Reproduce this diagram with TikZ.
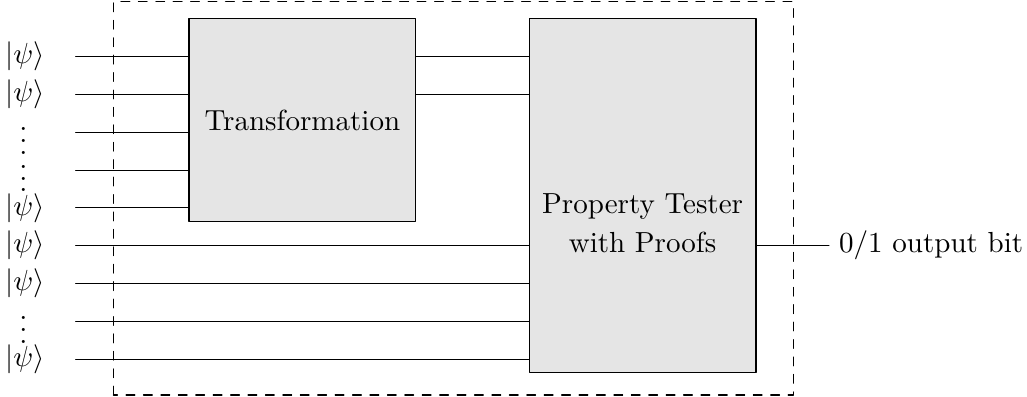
\documentclass[tikz,border=0pt]{standalone}
\usepackage{amsmath,amsfonts,amssymb}
\usepackage{tikz}
\usetikzlibrary{calc}

\begin{document}
\begin{tikzpicture}[line cap=round,line join=round,x=0.4575cm,y=0.4575cm,
        blockbox/.style={draw,fill=gray!20,line width=0.4pt,inner sep=0pt},
        wire/.style={line width=0.4pt}]
                \useasboundingbox (0,0) rectangle (27.17,10.5);
                \draw [dashed,line width=0.4pt] (3,0.05) rectangle (21,10.45);
                \node [blockbox,minimum width=2.745cm,minimum height=2.4476cm] (trans) at (8,7.325) {Transformation};
                \node [blockbox,minimum width=2.745cm,minimum height=4.2776cm] (tester) at (17,5.325) {};
                \node [align=center] (testertext) at (17,4.6) {Property Tester\\[1.5pt]with Proofs};
                % input wires
                \foreach \i/\y in {1/9,2/8,3/7,4/6,5/5,6/4,7/3,8/2,9/1}
                    \coordinate (in\i) at (2,\y);
                \foreach \i in {1,...,5}
                    \draw [wire] (in\i) -- (in\i -| trans.west);
                \foreach \i in {6,...,9}
                    \draw [wire] (in\i) -- (in\i -| tester.west);
                \draw [wire] (trans.east |- in1) -- (tester.west |- in1);
                \draw [wire] (trans.east |- in2) -- (tester.west |- in2);
                % states
                \node (ket1) at (0.66,9) {$|\psi\rangle$};
                \node (ket2) at (0.66,8) {$|\psi\rangle$};
                \node (dots1) at (0.62,7) {$\vdots$};
                \node (dots2) at (0.62,6) {$\vdots$};
                \node (ket5) at (0.66,5) {$|\psi\rangle$};
                \node (ket6) at (0.66,4) {$|\psi\rangle$};
                \node (ket7) at (0.66,3) {$|\psi\rangle$};
                \node (dots3) at (0.62,2) {$\vdots$};
                \node (ket9) at (0.66,1) {$|\psi\rangle$};
                % output
                \node [anchor=west] (outbit) at (21.93,4) {$0/1$ output bit};
                \draw [wire] (tester.east |- in6) -- (outbit.west);
            \end{tikzpicture}
\end{document}
